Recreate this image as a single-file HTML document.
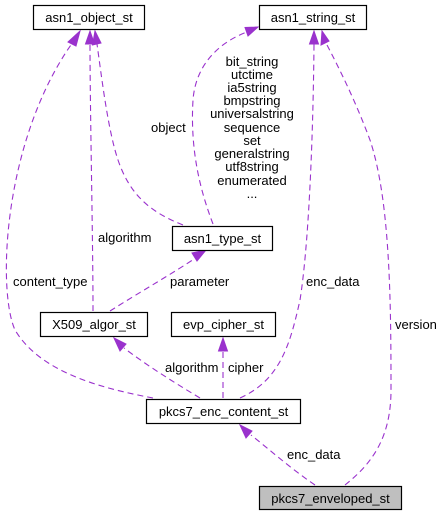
<!DOCTYPE html>
<html><head><meta charset="utf-8"><style>
html,body{margin:0;padding:0;background:#fff;}
svg{display:block;}
text{font-family:"Liberation Sans",Helvetica,sans-serif;font-size:13px;fill:#000;}
.e{fill:none;stroke:#9a32cd;stroke-width:1.1;stroke-dasharray:6,4;}
.a{fill:#9a32cd;stroke:#9a32cd;}
.b{fill:#fff;stroke:#000;stroke-width:1.2;}
</style></head><body>
<svg width="444" height="516" viewBox="0 0 444 516" xmlns="http://www.w3.org/2000/svg">
<path class="e" d="M153,398 C100,388 40,372 15,330 C-3,290 3,140 73,42"/>
<polygon class="a" points="80,31 68,42 76,46"/>
<path class="e" d="M93,311 C93,240 90,110 90,44"/>
<polygon class="a" points="90,31 85.5,44 94.5,44"/>
<path class="e" d="M183,225 C150,212 130,195 118,160 C108,130 102,80 97,44"/>
<polygon class="a" points="95,31 92.5,45 101,43"/>
<path class="e" d="M213,224 C200,190 190,150 193,100 C196,60 225,40 247,32"/>
<polygon class="a" points="258,27 245,27.5 248,36"/>
<path class="e" d="M110,311 C140,292 175,272 197,257"/>
<polygon class="a" points="206,250 192,253 197,261"/>
<path class="e" d="M240,398 C280,380 290,345 300,300 C308,250 313,150 314,44"/>
<polygon class="a" points="314,31 309.5,44 318.5,44"/>
<path class="e" d="M345,485 C370,465 391,440 391,390 C391,300 390,200 370,140 C355,100 340,70 326,43"/>
<polygon class="a" points="322,31 321,45 329,41"/>
<path class="e" d="M200,398 C170,380 145,364 124,348"/>
<polygon class="a" points="114,338 120,351 126,344"/>
<path class="e" d="M223,398 L223,351"/>
<polygon class="a" points="223,338 218.5,351 227.5,351"/>
<path class="e" d="M315,485 C290,468 270,450 251,435"/>
<polygon class="a" points="240,425 246,438 252,431"/>

<rect class="b" x="33.5" y="5.5" width="111" height="24"/>
<text x="89" y="22" text-anchor="middle">asn1_object_st</text>
<rect class="b" x="259.5" y="5.5" width="107" height="24"/>
<text x="313" y="22" text-anchor="middle">asn1_string_st</text>
<rect class="b" x="172.5" y="226.5" width="100" height="24"/>
<text x="222.5" y="243" text-anchor="middle">asn1_type_st</text>
<rect class="b" x="40.5" y="312.5" width="107" height="24"/>
<text x="94" y="329" text-anchor="middle">X509_algor_st</text>
<rect class="b" x="171.5" y="312.5" width="104" height="24"/>
<text x="223.5" y="329" text-anchor="middle">evp_cipher_st</text>
<rect class="b" x="146.5" y="399.5" width="154" height="24"/>
<text x="223.5" y="416" text-anchor="middle">pkcs7_enc_content_st</text>
<rect x="259.5" y="486.5" width="142" height="23" fill="#bfbfbf" stroke="#000" stroke-width="1.2"/>
<text x="330.5" y="503" text-anchor="middle">pkcs7_enveloped_st</text>

<g text-anchor="middle">
<text x="252" y="66">bit_string</text>
<text x="252" y="79">utctime</text>
<text x="252" y="92">ia5string</text>
<text x="252" y="105">bmpstring</text>
<text x="252" y="118">universalstring</text>
<text x="252" y="132">sequence</text>
<text x="252" y="145">set</text>
<text x="252" y="158">generalstring</text>
<text x="252" y="171">utf8string</text>
<text x="252" y="185">enumerated</text>
<text x="252" y="198">...</text>
</g>
<text x="151" y="132">object</text>
<text x="98" y="242">algorithm</text>
<text x="13" y="286">content_type</text>
<text x="170" y="286">parameter</text>
<text x="306" y="286">enc_data</text>
<text x="395" y="329">version</text>
<text x="165" y="372">algorithm</text>
<text x="228" y="372">cipher</text>
<text x="287" y="459">enc_data</text>
</svg>
</body></html>
